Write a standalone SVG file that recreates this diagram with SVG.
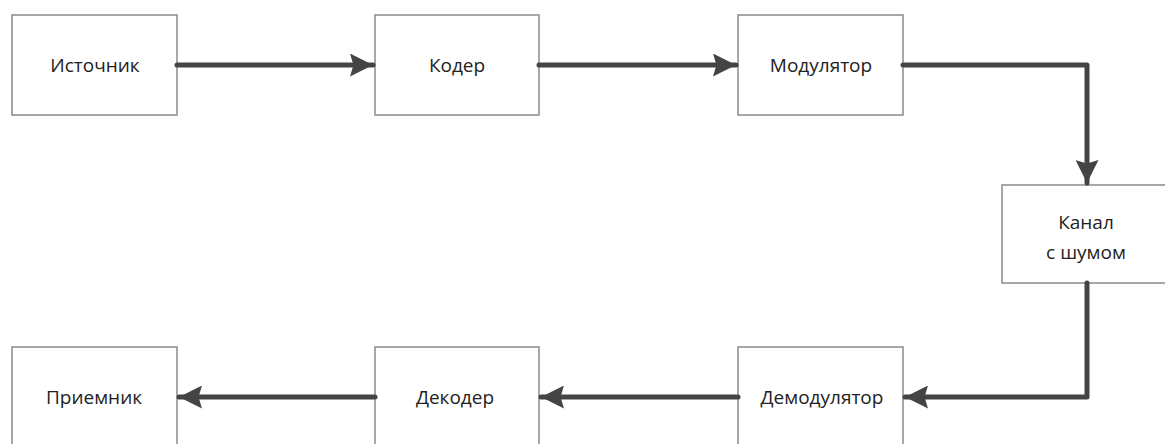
<svg xmlns="http://www.w3.org/2000/svg" width="1165" height="444" viewBox="0 0 1165 444">
<defs>
<style>
.box{fill:#fff;stroke:#8a8a8a;stroke-width:1.5}
.lbl{font-family:"Open Sans","Liberation Sans",sans-serif;font-size:19px;fill:#222;text-anchor:middle}
.con{fill:none;stroke:#444;stroke-width:5;stroke-linejoin:round;stroke-linecap:round}
</style>
<marker id="ah" viewBox="0 0 10 10" refX="10" refY="5" markerWidth="4.6" markerHeight="4.6" orient="auto" markerUnits="strokeWidth">
<path d="M0,0 L10,5 L0,10 L1.5,5 Z" fill="#444"/>
</marker>
</defs>
<rect width="1165" height="444" fill="#fff"/>
<g id="n-source"><rect class="box" x="12" y="15" width="165" height="100"/><text class="lbl" x="95" y="72">Источник</text></g>
<g id="n-coder"><rect class="box" x="375" y="15" width="164" height="100"/><text class="lbl" x="457" y="72">Кодер</text></g>
<g id="n-mod"><rect class="box" x="738" y="15" width="165" height="100"/><text class="lbl" x="821" y="72">Модулятор</text></g>
<g id="n-channel"><rect class="box" x="1002" y="185" width="170" height="98"/><text class="lbl" x="1086" y="229">Канал</text><text class="lbl" x="1086" y="259">с шумом</text></g>
<g id="n-demod"><rect class="box" x="738" y="347" width="165" height="110"/><text class="lbl" x="822" y="404">Демодулятор</text></g>
<g id="n-decoder"><rect class="box" x="375" y="347" width="164" height="110"/><text class="lbl" x="455" y="404">Декодер</text></g>
<g id="n-receiver"><rect class="box" x="12" y="347" width="165" height="110"/><text class="lbl" x="94" y="404">Приемник</text></g>
<g id="connectors">
<path class="con" d="M177,65 L373,65" marker-end="url(#ah)"/>
<path class="con" d="M539,65 L736,65" marker-end="url(#ah)"/>
<path class="con" d="M903,65 L1087,65 L1087,183" marker-end="url(#ah)"/>
<path class="con" d="M1087,283 L1087,397 L905,397" marker-end="url(#ah)"/>
<path class="con" d="M738,397 L541,397" marker-end="url(#ah)"/>
<path class="con" d="M375,397 L179,397" marker-end="url(#ah)"/>
</g>
</svg>
